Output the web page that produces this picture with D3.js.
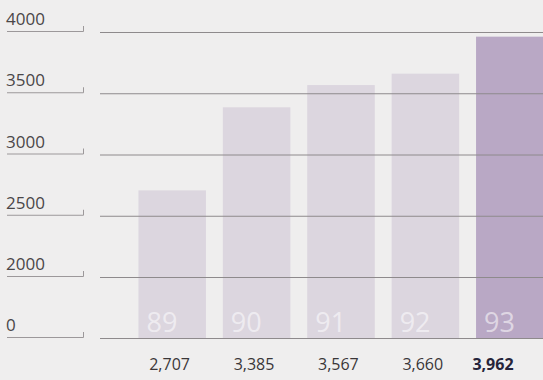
<!DOCTYPE html>
<html>
<head>
<meta charset="utf-8">
<script src="https://cdn.jsdelivr.net/npm/d3@7/dist/d3.min.js"></script>
<style>
  html, body { margin: 0; padding: 0; background: #efeeee; }
  svg { display: block; }
  text { font-family: "Open Sans", "Noto Sans", sans-serif; }
</style>
</head>
<body>
<svg id="chart" width="543" height="380"></svg>
<script>
// Annual totals, fiscal years 1989–1993
const years = ["89", "90", "91", "92", "93"];
const values = [2707, 3385, 3567, 3660, 3962];
const valueLabels = ["2,707", "3,385", "3,567", "3,660", "3,962"];
const tickValues = [0, 2000, 2500, 3000, 3500, 4000];
const highlightYear = "93";

const W = 543, H = 380;
const svg = d3.select("#chart");

// Broken value axis: the gap between 0 and 2000 is compressed to one step
const y = d3.scaleLinear()
  .domain([0, 2000, 4000])
  .range([338, 277, 32]);

const x = d3.scaleBand()
  .domain(years)
  .range([130, 552])
  .paddingInner(0.2)
  .paddingOuter(0.1);

// Bars
svg.append("g").selectAll("rect")
  .data(years)
  .join("rect")
  .attr("x", d => x(d))
  .attr("width", x.bandwidth())
  .attr("y", (d, i) => y(values[i]))
  .attr("height", (d, i) => y(0) - y(values[i]))
  .attr("fill", d => d === highlightYear ? "#b9a8c5" : "#dcd6df");

// Year labels inside the bars
svg.append("g").selectAll("text")
  .data(years)
  .join("text")
  .attr("x", d => x(d) + 8)
  .attr("y", y(0) - 6)
  .attr("font-size", 27)
  .attr("fill", "#ffffff")
  .attr("fill-opacity", 0.55)
  .text(d => d);

// Gridlines, drawn over the bars
const grid = svg.append("g");
grid.selectAll("line")
  .data(tickValues)
  .join("line")
  .attr("x1", 100).attr("x2", W)
  .attr("y1", d => y(d) + 0.5).attr("y2", d => y(d) + 0.5)
  .attr("stroke", "#8e8a8c")
  .attr("stroke-width", 1);

// Tick labels with their underline and small end hook
const ticks = svg.append("g").selectAll("g")
  .data(tickValues)
  .join("g")
  .attr("transform", d => `translate(0,${y(d)})`);

ticks.append("path")
  .attr("d", "M7,-0.5 H83.5 V-6")
  .attr("fill", "none")
  .attr("stroke", "#9c989a")
  .attr("stroke-width", 1);

ticks.append("text")
  .attr("x", 6)
  .attr("y", -7)
  .attr("font-size", 17)
  .attr("fill", "#4a4648")
  .text(d => d);

// Value labels beneath each bar, set flush right within the column
svg.append("g").selectAll("text")
  .data(years)
  .join("text")
  .attr("x", d => x(d) + x.bandwidth() - (d === highlightYear ? 30 : 16))
  .attr("y", 370)
  .attr("text-anchor", "end")
  .attr("font-size", 16)
  .attr("font-weight", d => d === highlightYear ? 700 : 400)
  .attr("fill", d => d === highlightYear ? "#26243a" : "#3a3638")
  .text((d, i) => valueLabels[i]);
</script>
</body>
</html>
